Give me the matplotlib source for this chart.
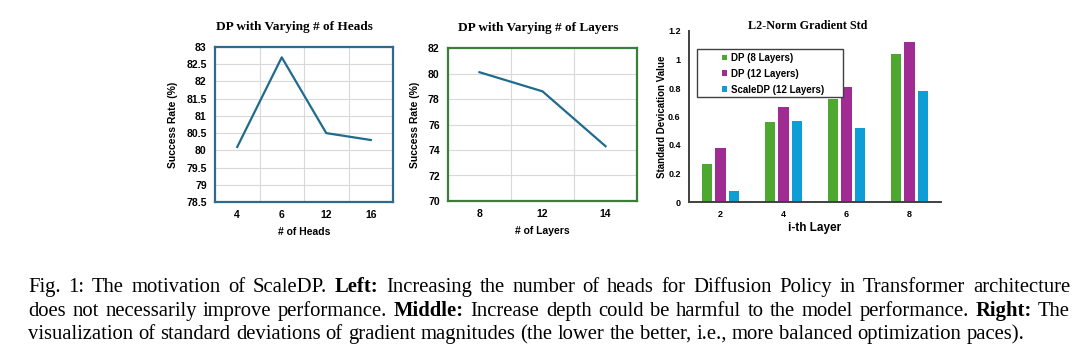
import numpy as np
import matplotlib
matplotlib.use('Agg')
import matplotlib.pyplot as plt
from matplotlib.patches import Rectangle
from matplotlib.ticker import FuncFormatter, MultipleLocator

# data
heads = ['4', '6', '12', '16']
heads_sr = [80.1, 82.7, 80.5, 80.3]

layers = ['8', '12', '14']
layers_sr = [80.1, 78.6, 74.3]

ith_layer = ['2', '4', '6', '8']
std_series = {
    'DP (8 Layers)': [0.27, 0.56, 0.72, 1.04],
    'DP (12 Layers)': [0.38, 0.67, 0.81, 1.12],
    'ScaleDP (12 Layers)': [0.08, 0.57, 0.52, 0.78],
}
bar_colors = ['#4EA72E', '#A02B93', '#0E9ED5']

caption = [
    [("Fig. 1: The motivation of ScaleDP.", False), ("Left:", True),
     ("Increasing the number of heads for Diffusion Policy in Transformer architecture", False)],
    [("does not necessarily improve performance.", False), ("Middle:", True),
     ("Increase depth could be harmful to the model performance.", False), ("Right:", True), ("The", False)],
    [("visualization of standard deviations of gradient magnitudes (the lower the better, i.e., more balanced optimization paces).", False)],
]

W, H = 1080, 352
fig = plt.figure(figsize=(W / 100, H / 100), dpi=100)

sans = 'Liberation Sans'
serif = 'Liberation Serif'
gfmt = FuncFormatter(lambda v, p: '%g' % round(v, 2))


def px_axes(l, t, r, b):
    return fig.add_axes([l / W, 1 - b / H, (r - l) / W, (b - t) / H])


def line_panel(ax, cats, vals, ylim, step, frame, xlabel):
    x = np.arange(len(cats))
    ax.plot(x, vals, color='#1F6B8E', lw=1.6)
    ax.set_xlim(-0.5, len(cats) - 0.5)
    ax.set_ylim(*ylim)
    ax.yaxis.set_major_locator(MultipleLocator(step))
    ax.yaxis.set_major_formatter(gfmt)
    ax.set_xticks(x)
    ax.set_xticklabels(cats)
    ax.set_xticks(x[:-1] + 0.5, minor=True)
    ax.grid(True, which='major', axis='y', color='#D9D9D9', lw=0.8)
    ax.grid(True, which='minor', axis='x', color='#D9D9D9', lw=0.8)
    ax.tick_params(which='both', length=0, pad=6)
    for lab in ax.get_xticklabels() + ax.get_yticklabels():
        lab.set_fontfamily(sans)
        lab.set_fontweight('bold')
        lab.set_fontsize(7.5)
    for s in ax.spines.values():
        s.set_color(frame)
        s.set_linewidth(1.6)
    ax.set_ylabel('Success Rate (%)', fontfamily=sans, fontweight='bold', fontsize=7.5, labelpad=6)
    ax.set_xlabel(xlabel, fontfamily=sans, fontweight='bold', fontsize=7.5, labelpad=5)
    ax.set_axisbelow(True)


def title_at(x, y, s, size=9.5):
    fig.text(x / W, 1 - y / H, s, fontfamily=serif, fontweight='bold',
             fontsize=size, ha='center', va='center')


ax1 = px_axes(215, 47, 393, 202)
line_panel(ax1, heads, heads_sr, (78.5, 83), 0.5, '#2E6A8E', '# of Heads')
title_at(294, 27, 'DP with Varying # of Heads')

ax2 = px_axes(448, 48, 637, 201)
line_panel(ax2, layers, layers_sr, (70, 82), 2, '#3B7D3B', '# of Layers')
title_at(538, 28, 'DP with Varying # of Layers')

# right: grouped bars
ax3 = px_axes(689, 31, 941, 202)
xg = np.arange(len(ith_layer))
bw, off = 0.16, 0.21
for i, (name, vals) in enumerate(std_series.items()):
    ax3.bar(xg + (i - 1) * off, vals, width=bw, color=bar_colors[i], label=name)
ax3.set_xlim(-0.5, len(ith_layer) - 0.5)
ax3.set_ylim(0, 1.2)
ax3.yaxis.set_major_locator(MultipleLocator(0.2))
ax3.yaxis.set_major_formatter(gfmt)
ax3.set_xticks(xg)
ax3.set_xticklabels(ith_layer)
ax3.tick_params(length=0, pad=6)
for lab in ax3.get_xticklabels() + ax3.get_yticklabels():
    lab.set_fontfamily(sans)
    lab.set_fontweight('bold')
    lab.set_fontsize(6.5)
for side in ['top', 'right']:
    ax3.spines[side].set_visible(False)
for side in ['left', 'bottom']:
    ax3.spines[side].set_color('#404040')
    ax3.spines[side].set_linewidth(1.4)
ax3.set_ylabel('Standard Devication Value', fontfamily=sans, fontweight='bold', fontsize=7, labelpad=1)
ax3.set_xlabel('i-th Layer', fontfamily=sans, fontweight='bold', fontsize=8.5, labelpad=2)
title_at(808, 26, 'L2-Norm Gradient Std', size=8.7)

# legend: Excel-style box wider than its entries
box = Rectangle((697 / W, 1 - 97 / H), 146 / W, 48 / H, transform=fig.transFigure,
                facecolor='white', edgecolor='#404040', lw=1.0, zorder=4.5, clip_on=False)
ax3.add_artist(box)
leg = ax3.legend(loc='upper left', bbox_to_anchor=(719 / W, 1 - 50 / H), bbox_transform=fig.transFigure,
                 prop={'family': sans, 'weight': 'bold', 'size': 7}, frameon=False,
                 handlelength=0.55, handleheight=0.55, handletextpad=0.35,
                 borderpad=0.3, labelspacing=0.6, borderaxespad=0)
leg.set_zorder(6)

# caption, justified word by word
x0, x1 = 28, 1070
ys = [292, 316, 339]
fs = 14.9
fig.canvas.draw()
r = fig.canvas.get_renderer()
for li, (segs, y) in enumerate(zip(caption, ys)):
    words = []
    for txt, bold in segs:
        for w in txt.split(' '):
            words.append((w, bold))
    texts = [fig.text(0, 1 - y / H, w, fontfamily=serif, fontsize=fs,
                      fontweight='bold' if b else 'normal', va='baseline', ha='left')
             for w, b in words]
    widths = [t.get_window_extent(r).width for t in texts]
    if li < len(caption) - 1:
        gap = (x1 - x0 - sum(widths)) / (len(texts) - 1)
    else:
        gap = fs * 100 / 72 * 0.25
    x = x0
    for t, w in zip(texts, widths):
        t.set_x(x / W)
        x += w + gap

fig.savefig('out.png', dpi=100)
